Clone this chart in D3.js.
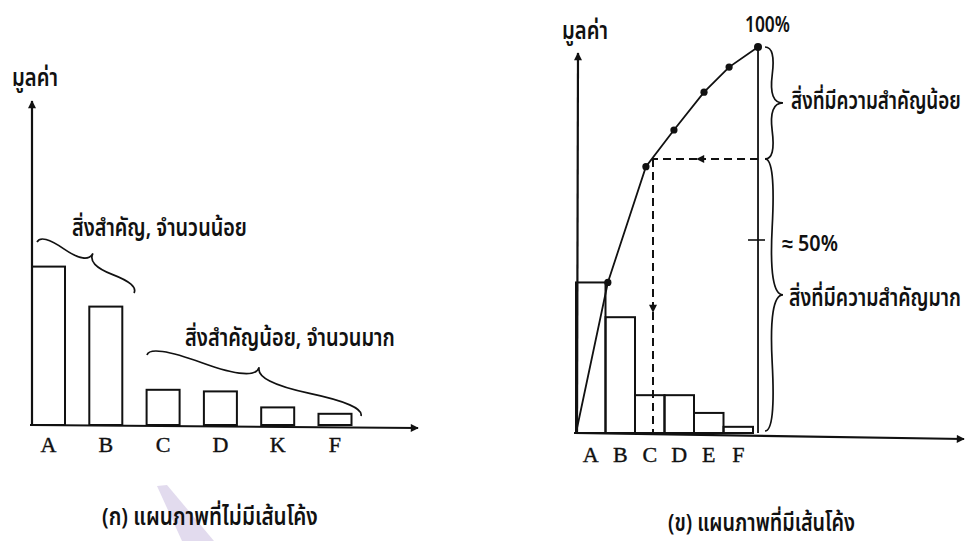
<!DOCTYPE html>
<html><head><meta charset="utf-8">
<script src="https://cdn.jsdelivr.net/npm/d3@7"></script>
<style>body{margin:0;background:#fff}svg{display:block}</style>
</head><body>
<svg id="c" width="972" height="541"></svg>
<script>
// ---- data ----
const leftCategories = ["A", "B", "C", "D", "K", "F"];
const leftValues = [99, 74, 22, 21, 11, 7];
const rightCategories = ["A", "B", "C", "D", "E", "F"];
const rightValues = [39, 30, 9.8, 9.8, 5.2, 1.6];          // % of total
const cumulativeX = [0, 1.08, 2.37, 3.32, 4.34, 5.19, 6.17]; // in category units
const cumulativePct = [0, 39, 69, 78.5, 88.3, 94.8, 100];
const cutoffPct = 71;
const midPct = 50;
const yLabel = "มูลค่า";
const leftNotes = ["สิ่งสำคัญ, จำนวนน้อย", "สิ่งสำคัญน้อย, จำนวนมาก"];
const rightNotes = ["สิ่งที่มีความสำคัญน้อย", "≈ 50%", "สิ่งที่มีความสำคัญมาก", "100%"];
const captions = ["(ก) แผนภาพที่ไม่มีเส้นโค้ง", "(ข) แผนภาพที่มีเส้นโค้ง"];

const svg = d3.select("#c");
const INK = "#111";
const thai = "'Noto Sans Thai','Noto Sans Thai UI','Garuda','Loma','Tlwg Typo','Noto Sans',sans-serif";
const serif = "'Liberation Serif','DejaVu Serif',serif";

// watermark
svg.append("polygon").attr("points", "157,486 167,485 214,541 182,541").attr("fill", "#e2dbee");

const defs = svg.append("defs");
defs.append("marker").attr("id", "arr").attr("viewBox", "0 0 10 10").attr("refX", 9).attr("refY", 5)
  .attr("markerWidth", 12).attr("markerHeight", 8).attr("markerUnits", "userSpaceOnUse").attr("orient", "auto")
  .append("path").attr("d", "M0,0 L10,5 L0,10 Z").attr("fill", INK);

// text squeezed horizontally to a target width
function text(x, y, s, size, w) {
  const t = svg.append("text").attr("x", 0).attr("y", 0).text(s)
    .attr("font-family", thai).attr("font-size", size).attr("fill", INK)
    .attr("font-weight", 600);
  const nat = t.node().getComputedTextLength() || w;
  const sx = w / nat;
  t.attr("transform", `translate(${x},${y}) scale(${sx},1)`);
  return t;
}

function brace(x1, y1, x2, y2, w, q) {
  let dx = x1 - x2, dy = y1 - y2;
  const len = Math.sqrt(dx * dx + dy * dy);
  dx /= len; dy /= len;
  const qx1 = x1 + q * w * dy, qy1 = y1 - q * w * dx;
  const qx2 = (x1 - .25 * len * dx) + (1 - q) * w * dy, qy2 = (y1 - .25 * len * dy) - (1 - q) * w * dx;
  const tx1 = (x1 - .5 * len * dx) + w * dy, ty1 = (y1 - .5 * len * dy) - w * dx;
  const qx3 = x2 + q * w * dy, qy3 = y2 - q * w * dx;
  const qx4 = (x1 - .75 * len * dx) + (1 - q) * w * dy, qy4 = (y1 - .75 * len * dy) - (1 - q) * w * dx;
  svg.append("path").attr("d",
    `M${x1},${y1} Q${qx1},${qy1} ${qx2},${qy2} T${tx1},${ty1} M${x2},${y2} Q${qx3},${qy3} ${qx4},${qy4} T${tx1},${ty1}`)
    .attr("fill", "none").attr("stroke", INK).attr("stroke-width", 1.7);
}

// ================= LEFT CHART =================
const xL = d3.scaleBand().domain(leftCategories).range([32, 351.5]).paddingInner(0.424).paddingOuter(0);
const yL = d3.scaleLinear().domain([0, 200]).range([425, 105]);
const gL = svg.append("g");
gL.selectAll("rect").data(leftValues).join("rect")
  .attr("x", (d, i) => xL(leftCategories[i])).attr("y", d => yL(d))
  .attr("width", xL.bandwidth()).attr("height", d => yL(0) - yL(d))
  .attr("fill", "none").attr("stroke", INK).attr("stroke-width", 2);
// axes
gL.append("line").attr("x1", 32).attr("y1", yL(0)).attr("x2", 32).attr("y2", 101)
  .attr("stroke", INK).attr("stroke-width", 2.2).attr("marker-end", "url(#arr)");
gL.append("line").attr("x1", 30).attr("y1", yL(0)).attr("x2", 418).attr("y2", 428)
  .attr("stroke", INK).attr("stroke-width", 2.2).attr("marker-end", "url(#arr)");
const axL = d3.axisBottom(xL).tickSize(0).tickPadding(0);
const axLg = gL.append("g").attr("transform", "translate(0,437)").call(axL);
axLg.select(".domain").remove();
axLg.selectAll("text").attr("font-family", serif).attr("font-size", 22).attr("fill", INK)
  .attr("dy", "0.7em").attr("stroke", INK).attr("stroke-width", 0.4);
text(12, 86, yLabel, 24, 46);
text(72, 236, leftNotes[0], 24, 175);
text(185, 346, leftNotes[1], 24, 210);
brace(37, 242, 134, 293, -16, 0.6);
brace(147, 355, 361, 416, -19, 0.6);
text(102, 525, captions[0], 24, 216);

// ================= RIGHT CHART =================
const xR = d3.scaleBand().domain(rightCategories).range([576, 753]).padding(0);
const xRL = d3.scaleLinear().domain([0, 6]).range([576, 753]);
const yR = d3.scaleLinear().domain([0, 100]).range([433, 47]);
const gR = svg.append("g");
gR.selectAll("rect").data(rightValues).join("rect")
  .attr("x", (d, i) => xR(rightCategories[i])).attr("y", d => yR(d))
  .attr("width", xR.bandwidth()).attr("height", d => yR(0) - yR(d))
  .attr("fill", "none").attr("stroke", INK).attr("stroke-width", 2);
// axes
gR.append("line").attr("x1", 577).attr("y1", yR(0) + 1).attr("x2", 578).attr("y2", 53)
  .attr("stroke", INK).attr("stroke-width", 2.2).attr("marker-end", "url(#arr)");
gR.append("line").attr("x1", 574).attr("y1", yR(0)).attr("x2", 964).attr("y2", 439)
  .attr("stroke", INK).attr("stroke-width", 2.2).attr("marker-end", "url(#arr)");
const axR = d3.axisBottom(xR).tickSize(0).tickPadding(0);
const axRg = gR.append("g").attr("transform", "translate(0,447)").call(axR);
axRg.select(".domain").remove();
axRg.selectAll("text").attr("font-family", serif).attr("font-size", 22).attr("fill", INK)
  .attr("dy", "0.7em").attr("stroke", INK).attr("stroke-width", 0.4);

// 100% vertical line + tick
gR.append("line").attr("x1", xRL(cumulativeX[6])).attr("x2", xRL(cumulativeX[6]))
  .attr("y1", yR(100)).attr("y2", yR(0)).attr("stroke", INK).attr("stroke-width", 1.8);
gR.append("line").attr("x1", xRL(cumulativeX[6]) - 10).attr("x2", xRL(cumulativeX[6]) + 7)
  .attr("y1", yR(midPct)).attr("y2", yR(midPct)).attr("stroke", INK).attr("stroke-width", 1.6);

// cumulative curve
const pts = cumulativeX.map((x, i) => [xRL(x), yR(cumulativePct[i])]);
gR.append("path").attr("d", d3.line()(pts)).attr("fill", "none").attr("stroke", INK).attr("stroke-width", 1.8);
gR.selectAll("circle").data(pts.slice(1)).join("circle")
  .attr("cx", d => d[0]).attr("cy", d => d[1]).attr("r", (d, i) => i === 5 ? 4 : 3.6).attr("fill", INK);

// dashed guide lines
const cutY = yR(cutoffPct);
const cutX = 653;
gR.append("line").attr("x1", xRL(cumulativeX[6])).attr("y1", cutY).attr("x2", 697).attr("y2", cutY)
  .attr("stroke", INK).attr("stroke-width", 2).attr("stroke-dasharray", "8,5").attr("marker-end", "url(#arr)");
gR.append("line").attr("x1", 697).attr("y1", cutY).attr("x2", cutX).attr("y2", cutY)
  .attr("stroke", INK).attr("stroke-width", 2).attr("stroke-dasharray", "8,5");
gR.append("line").attr("x1", cutX).attr("y1", cutY).attr("x2", cutX).attr("y2", 312)
  .attr("stroke", INK).attr("stroke-width", 2).attr("stroke-dasharray", "8,5").attr("marker-end", "url(#arr)");
gR.append("line").attr("x1", cutX).attr("y1", 312).attr("x2", cutX).attr("y2", yR(0))
  .attr("stroke", INK).attr("stroke-width", 2).attr("stroke-dasharray", "8,5");

// braces
brace(765, yR(100), 765, cutY, -18, 0.6);
brace(765, cutY, 765, yR(0) - 2, -18, 0.6);

text(562, 39, yLabel, 24, 46);
text(745, 32, rightNotes[3], 21, 45);
text(791, 109, rightNotes[0], 24, 170);
text(782, 251, rightNotes[1], 21, 56);
text(789, 306, rightNotes[2], 24, 172);
text(668, 531, captions[1], 24, 187);
</script>
</body></html>
